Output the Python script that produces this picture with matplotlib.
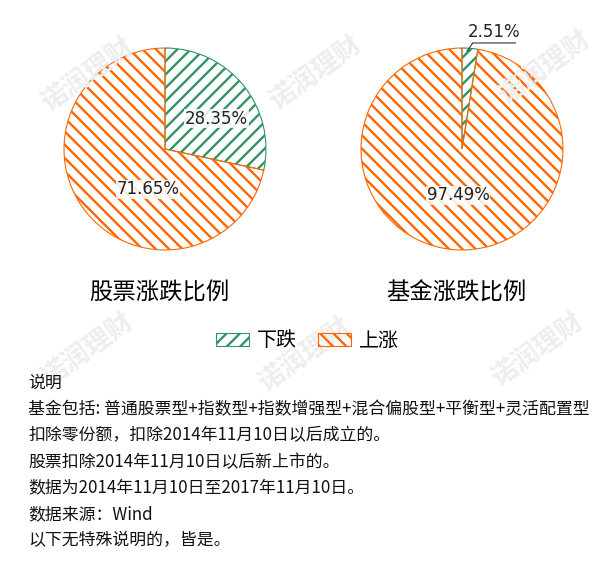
import matplotlib
matplotlib.use("Agg")
import matplotlib.pyplot as plt

plt.rcParams["font.family"] = ["Noto Sans CJK SC", "DejaVu Sans"]
plt.rcParams["axes.unicode_minus"] = False
plt.rcParams["hatch.linewidth"] = 2.1

# ===== 数据 =====
CATEGORIES = ["下跌", "上涨"]
STOCK_PCT = [28.35, 71.65]
FUND_PCT = [2.51, 97.49]
TITLES = ["股票涨跌比例", "基金涨跌比例"]
NOTES = [
    "说明",
    "基金包括: 普通股票型+指数型+指数增强型+混合偏股型+平衡型+灵活配置型",
    "扣除零份额，扣除2014年11月10日以后成立的。",
    "股票扣除2014年11月10日以后新上市的。",
    "数据为2014年11月10日至2017年11月10日。",
    "数据来源：Wind",
    "以下无特殊说明的，皆是。",
]

HATCH_COL = ["#2e9466", "#ff6600"]
HATCHES = ["//", "\\\\"]

W, H, DPI = 602, 563, 80
fig = plt.figure(figsize=(W / DPI, H / DPI), dpi=DPI)

# 水印
for wx, wy in [(88, 75), (316, 73), (545, 68), (88, 350), (305, 355), (538, 350)]:
    fig.text(wx / W, 1 - wy / H, "诺润理财", fontsize=24, fontweight="bold",
             color="#eeeeee", rotation=36, ha="center", va="center", zorder=0)

R = 103
CENTERS = [(165, 149), (462, 149)]
# 标签位置（相对半径的坐标）
LABEL_POS = [[(0.51, 0.30), (-0.17, -0.40)], [None, (-0.04, -0.46)]]


def draw_pie(cx, cy, values, label_pos, title):
    ax = fig.add_axes([(cx - R) / W, (H - cy - R) / H, 2 * R / W, 2 * R / H])
    ax.set_facecolor("none")
    wedges, _ = ax.pie(values, startangle=90, counterclock=False, radius=1,
                       colors=["none", "none"])
    for w, hc, ht in zip(wedges, HATCH_COL, HATCHES):
        w.set_hatch(ht)
        w.set_edgecolor(hc)
        w.set_linewidth(1.0)
    ax.set_xlim(-1.02, 1.02)
    ax.set_ylim(-1.02, 1.02)
    ax.set_aspect("equal")
    ax.axis("off")
    for v, pos in zip(values, label_pos):
        if pos is None:
            continue
        ax.text(pos[0], pos[1], f"{v:.2f}%", ha="center", va="center",
                fontsize=15, family=["DejaVu Sans"], color="#222222",
                bbox=dict(facecolor="white", edgecolor="none", pad=0.5, alpha=0.85))
    fig.text((cx - 6) / W, 1 - 293 / H, title, fontsize=21, ha="center", va="center")
    return ax, wedges


ax1, wedges1 = draw_pie(*CENTERS[0], STOCK_PCT, LABEL_POS[0], TITLES[0])
ax2, _ = draw_pie(*CENTERS[1], FUND_PCT, LABEL_POS[1], TITLES[1])

# 2.51% 引导线标签
ax2.plot([0.05, 0.107, 0.53], [0.97, 1.05, 1.05], color="#333333", lw=1.0,
         clip_on=False)
ax2.text(0.32, 1.065, f"{FUND_PCT[0]:.2f}%", ha="center", va="bottom",
         fontsize=15, family=["DejaVu Sans"], color="#222222")

fig.legend(wedges1, CATEGORIES, loc="center", ncol=2, frameon=False,
           bbox_to_anchor=(307.5 / W, 1 - 341 / H), fontsize=18,
           handlelength=1.65, handleheight=0.65, handletextpad=0.4,
           columnspacing=1.05)

for i, line in enumerate(NOTES):
    y = [383, 409, 435, 462, 488, 514, 540][i]
    fig.text(28 / W, 1 - y / H, line, fontsize=15.2, ha="left", va="center",
             color="#111111")

fig.savefig("out.png", dpi=DPI)
